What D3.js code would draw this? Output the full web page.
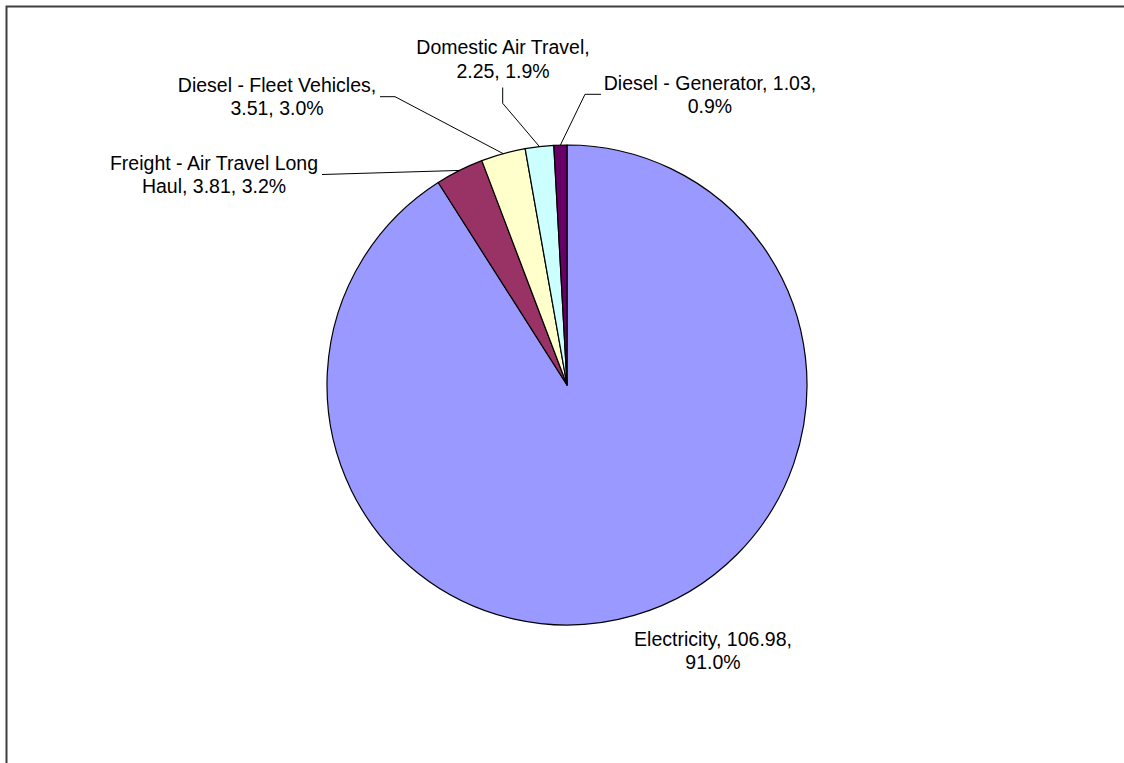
<!DOCTYPE html>
<html>
<head>
<meta charset="utf-8">
<script src="https://cdn.jsdelivr.net/npm/d3@7"></script>
<style>
  html, body { margin: 0; padding: 0; background: #fff; }
  svg { display: block; }
  text { font-family: Arial, "Liberation Sans", sans-serif; fill: #000; }
</style>
</head>
<body>
<svg id="chart" width="1124" height="763"></svg>
<script>
// ---- data ----
const categories = ["Electricity", "Freight - Air Travel Long Haul", "Diesel - Fleet Vehicles", "Domestic Air Travel", "Diesel - Generator"];
const values = [106.98, 3.81, 3.51, 2.25, 1.03];
const labelLines = [
  ["Electricity, 106.98,", "91.0%"],
  ["Freight - Air Travel Long", "Haul, 3.81, 3.2%"],
  ["Diesel - Fleet Vehicles,", "3.51, 3.0%"],
  ["Domestic Air Travel,", "2.25, 1.9%"],
  ["Diesel - Generator, 1.03,", "0.9%"]
];
const colors = ["#9999FF", "#993366", "#FFFFCC", "#CCFFFF", "#660066"];

// ---- layout (positions of label blocks and leader elbows) ----
const cx = 567, cy = 385, radius = 240;
const fontSize = 19.5, lineGap = 23.3;
const labelLayout = [
  { x: 713, y: 646, leader: null },
  { x: 214, y: 170, leader: [[322, 174.5]] },
  { x: 277, y: 91.5, leader: [[395, 96.7], [380, 96.7]] },
  { x: 503, y: 54.3, leader: [[502.7, 103.3], [502.7, 87.5]] },
  { x: 710, y: 89.5, leader: [[585, 94.3], [601, 94.3]] }
];

const svg = d3.select("#chart");

// border (extends beyond the bottom/right of the viewport)
svg.append("rect")
  .attr("x", 6.5).attr("y", 6.5)
  .attr("width", 1300).attr("height", 1000)
  .attr("fill", "none").attr("stroke", "#3f3f3f").attr("stroke-width", 2);

const data = categories.map((c, i) => ({ name: c, value: values[i], i }));
const pie = d3.pie().value(d => d.value).sort(null).startAngle(0).endAngle(2 * Math.PI);
const arcs = pie(data);
const arc = d3.arc().innerRadius(0).outerRadius(radius);

const g = svg.append("g").attr("transform", `translate(${cx},${cy})`);
g.selectAll("path.slice")
  .data(arcs)
  .join("path")
  .attr("class", "slice")
  .attr("d", arc)
  .attr("fill", d => colors[d.data.i])
  .attr("stroke", "#000")
  .attr("stroke-width", 1.2)
  .attr("stroke-linejoin", "round");

// leader lines
arcs.forEach((a, i) => {
  const lay = labelLayout[i];
  if (!lay.leader) return;
  const mid = (a.startAngle + a.endAngle) / 2;
  const ex = cx + radius * Math.sin(mid);
  const ey = cy - radius * Math.cos(mid);
  const pts = [[ex, ey]].concat(lay.leader);
  svg.append("path")
    .attr("d", d3.line()(pts))
    .attr("fill", "none")
    .attr("stroke", "#000")
    .attr("stroke-width", 1);
});

// labels
arcs.forEach((a, i) => {
  const lay = labelLayout[i];
  const t = svg.append("text")
    .attr("text-anchor", "middle")
    .attr("font-size", fontSize);
  labelLines[i].forEach((ln, k) => {
    t.append("tspan")
      .attr("x", lay.x)
      .attr("y", lay.y + k * lineGap)
      .text(ln);
  });
});
</script>
</body>
</html>
